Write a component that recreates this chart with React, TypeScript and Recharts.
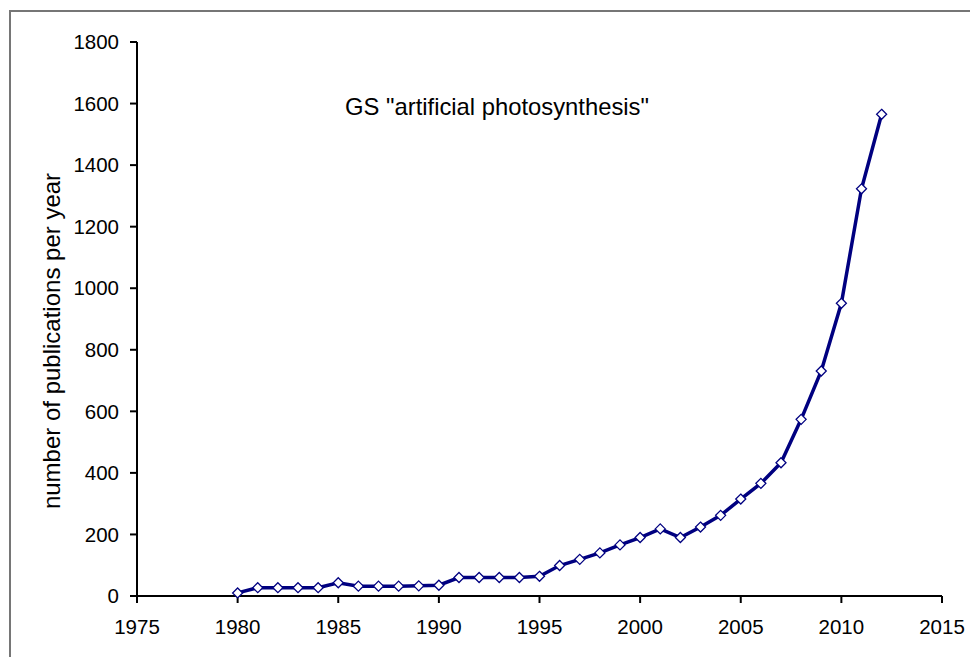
import React from "react"
import { LineChart, Line, XAxis, YAxis } from "recharts"

const years = [
    1980, 1981, 1982, 1983, 1984, 1985, 1986, 1987, 1988, 1989, 1990,
    1991, 1992, 1993, 1994, 1995, 1996, 1997, 1998, 1999, 2000,
    2001, 2002, 2003, 2004, 2005, 2006, 2007, 2008, 2009, 2010, 2011, 2012,
]
const publications = [
    10, 27, 27, 27, 27, 43, 32, 32, 32, 33, 35,
    60, 60, 60, 60, 64, 99, 119, 140, 166, 190,
    218, 190, 224, 262, 315, 366, 433, 574, 731, 951, 1323, 1565,
]
const xTicks = [1975, 1980, 1985, 1990, 1995, 2000, 2005, 2010, 2015]
const yTicks = [0, 200, 400, 600, 800, 1000, 1200, 1400, 1600, 1800]

const title = 'GS "artificial photosynthesis"'
const yLabel = 'number of publications per year'

const font = '"Liberation Sans", Arial, sans-serif'
const navy = '#000080'

const Diamond = (props: any) => {
    const { cx, cy, index } = props
    if (cx == null || cy == null) return null
    const r = 5
    return (
        <path
            key={`dot-${index}`}
            d={`M${cx},${cy - r} L${cx + r},${cy} L${cx},${cy + r} L${cx - r},${cy} Z`}
            fill="#fff"
            stroke={navy}
            strokeWidth={1.3}
        />
    )
}

export default function App() {
    const data = years.map((year, i) => ({ year, value: publications[i] }))

    return (
        <div style={{ position: 'absolute', left: 0, top: 0, width: 970, height: 657, overflow: 'hidden', background: '#fff' }}>
            <div style={{
                position: 'absolute', left: 9, top: 10, width: 1000, height: 700,
                borderTop: '2px solid #767676', borderLeft: '2px solid #767676',
            }} />
            <LineChart
                width={970}
                height={657}
                data={data}
                margin={{ top: 42, right: 28, bottom: 21, left: 77 }}
                style={{ position: 'absolute', left: 0, top: 0 }}
            >
                <XAxis
                    dataKey="year"
                    type="number"
                    domain={[1975, 2015]}
                    ticks={xTicks}
                    height={40}
                    tickSize={7}
                    tickMargin={16}
                    axisLine={{ stroke: '#000', strokeWidth: 2 }}
                    tickLine={{ stroke: '#000', strokeWidth: 2 }}
                    tick={{ fill: '#000', fontSize: 20.5, fontFamily: font }}
                    interval={0}
                />
                <YAxis
                    type="number"
                    domain={[0, 1800]}
                    ticks={yTicks}
                    width={60}
                    tickSize={7}
                    tickMargin={11}
                    axisLine={{ stroke: '#000', strokeWidth: 2 }}
                    tickLine={{ stroke: '#000', strokeWidth: 2 }}
                    tick={{ fill: '#000', fontSize: 20.5, fontFamily: font }}
                    interval={0}
                />
                <Line
                    dataKey="value"
                    stroke={navy}
                    strokeWidth={3.5}
                    dot={Diamond}
                    activeDot={false}
                    isAnimationActive={false}
                />
            </LineChart>
            <div style={{
                position: 'absolute', left: 497, top: 107, transform: 'translate(-50%, -50%)',
                fontFamily: font, fontSize: 23.8, color: '#000', whiteSpace: 'nowrap',
            }}>{title}</div>
            <div style={{
                position: 'absolute', left: 52, top: 341, transform: 'translate(-50%, -50%) rotate(-90deg)',
                fontFamily: font, fontSize: 24, color: '#000', whiteSpace: 'nowrap',
            }}>{yLabel}</div>
        </div>
    )
}
